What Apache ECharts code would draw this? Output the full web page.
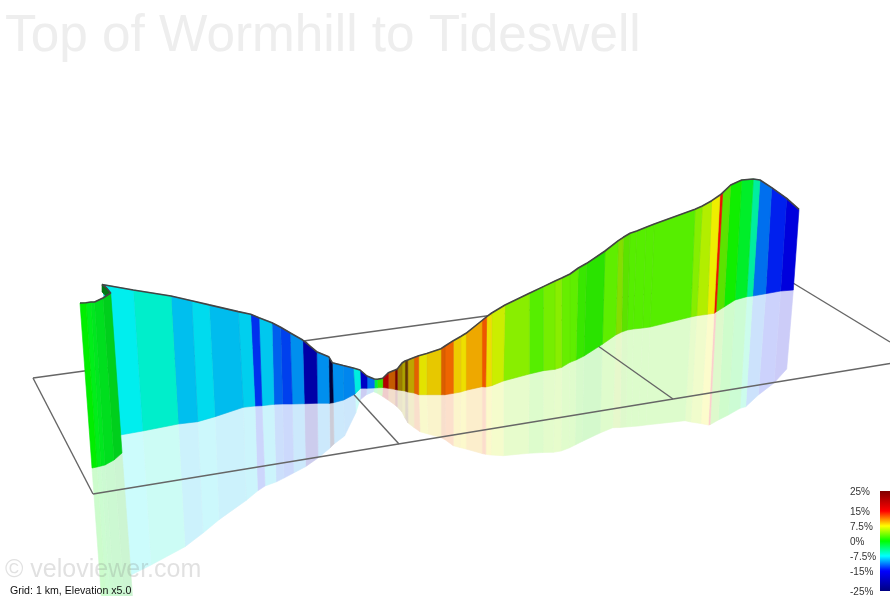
<!DOCTYPE html>
<html><head><meta charset="utf-8">
<style>html,body{margin:0;padding:0;background:#fff}#c{width:890px;height:596px}</style>
<script src="https://cdn.jsdelivr.net/npm/echarts@6/dist/echarts.min.js"></script>
</head><body><div id="c"></div>
<script>
// Projected road edge of the profile wall (top), the ground line (base) and the mirrored edge (mirror)
const topX = [80,86,91,94.5,103,110.7, 110.7,106.5,102, 102.5,133.3,171,191.7,209.3,238.3,250.7,259,272,280.7,290,302.7,316.7,328.7,332.3,343.3,353.3,360,367,374.3,377.3,382.7,388.3,395,397.3,402,405,407.7,414,418.7,426.7,441,445,453.3,460.7,466,482,486.7,491.7,505,529.3,543.3,555,561.7,570,578.3,586.7,605,618.3,623.3,630,636.7,646,654.3,695,702.3,711.7,720,722.7,730.7,741.7,753.3,760,771.7,786.7,799];
const topY = [303,302.7,302,302,298,293, 293,288,284.5, 284.5,290,296,300.8,304.9,311.6,314.3,317.7,322.7,327.3,332.7,340,351.7,356.7,362.7,365.5,368,370,376,379,379.3,378.3,372.7,370,369,363,361,360,357.5,355.8,353.5,348.7,346,340.7,336.5,333.3,320.5,316.7,313,305,293.3,286.6,281,278,274,268,263.3,251,240.7,237.3,233.3,231,227.3,224,209.3,206,200.7,195,192.7,185,180,179,180,187.7,198.3,209.3];
const baseX = [92,97,101,105,114,122, 107,104,102, 120,142.7,178.3,197.7,215,243.3,255,262,274,282.7,292.3,304.3,317.3,329.3,333.3,343.7,355,360.7,367,374.3,377.3,382.7,388.3,395,397.3,402,405,407.7,414,418.7,426.7,441,445,453.3,460.7,466,482,485.7,491.7,503.3,529.3,543.3,555,561.7,570,576,584,602.3,615.7,621.7,627.3,633.3,642.7,650,690.7,696.7,707.3,714,716,724,735,746.7,752.7,765.7,780.7,793.3];
const baseY = [468,467,466,465,460,453, 298,294,292, 435,431,424,421.7,416.7,407.3,406,405.7,404.3,404,404,403.7,403.3,403.3,402.7,400,394,388.3,388.3,388,387.8,387.5,388.3,389.3,390,390.5,391,392,393,394.7,394.7,394.7,394.7,393.3,392,390.3,386.7,387,385.7,381,374,370.7,369.3,367.3,362.3,360,356,344.3,335,332,330,329,328,327,317,315.7,314.3,313.3,312,307,300,296.7,296,293.7,291,290];
const mirrorX = [102.3,107,111,115,125,133.5, 107,104,102, 131,151,185,203,219,246,257.5,265,276,284,293.5,305.5,318,330,334,344.5,355.7,360,366,373.5,377,382,388,395,397.3,402,405,408,414,420,428,441,445.5,453.3,460,466,482,485.7,491,503.3,528.3,543,553.3,561,569,575,582,600,612.7,620,626,631.7,638.3,646,685,690.7,700.7,708.3,710,718.3,728.3,740,745.7,758.3,774,786.7];
const mirrorY = [610,610,610,610,610,610, 298,294,292, 575,565,546.7,533,519.7,500.5,491,486,482,478,473,466.7,458,448,444,436,413,400,395,391.7,393,396,400,405,407,412,418,423,427.5,431.7,434,437.5,440,445.7,447.5,449,453.5,454.3,455,455.7,453.3,452.5,452.3,451,448,445,441.5,433,427.7,427.5,427,426.5,426,425,420.7,422,423.5,425,424.7,420,415,408.3,406.7,395,383,369];

// Gradient (%) of the stretch that starts at each row; null marks a break in the strip
const grade = [0,-0.8,-1,-1,-1,null, -1,-1,null, -7.5,-6.4,-9,-8.1,-9.1,-8.5,-13.5,-8.7,-12,-13,-10.5,-21,-10.5,-32,-10.5,-10.8,-7,-18.5,-11.5,-2,2,20,11.5,25,9,8,11,8.5,11.8,7.5,8.5,11.8,11.8,8.6,8,9.7,12.3,8,6.4,4.3,2.7,3.7,4.3,3.2,3,1.8,1.4,3,4.5,3,2.7,2.7,2.7,2.7,4.2,5.6,7.5,14.5,3,0.5,-1.3,-5,-11.5,-14,-16.5,null];
// How much light each stretch's wall catches
const light = [1,1,0.97,0.93,0.87,1, 0.5,0.5,1, 1,1,1,1,1,1,1,1,1,1,1,1,1,1,1,1,1,1,1,1,0.95,1,0.82,1,0.65,0.72,0.42,0.8,0.95,0.95,0.97,0.92,1,1,1,1,1,1,1,1,1,1,1,1,1,0.97,0.95,1,0.93,0.95,1,1,1,1,1,1,1,1,0.95,1,1,1,1,1,1,1];

// Ground-plane grid segments
const gridFromX = [33,93,33,305,550,793];
const gridFromY = [378,494,378,341,312,283];
const gridToX   = [793,890,93,399,673,890];
const gridToY   = [274,363.5,494,444,399,342];

const scaleTicks = [25,15,7.5,0,-7.5,-15,-25];
const titleText = 'Top of Wormhill to Tideswell';
const markText = '© veloviewer.com';
const noteText = 'Grid: 1 km, Elevation x5.0';

const ramp = [[-35,[0,0,32]],[-25,[0,0,128]],[-15,[0,0,255]],[-7.5,[0,255,255]],[0,[0,255,0]],[7.5,[255,255,0]],[15,[255,0,0]],[25,[128,0,0]]];
function rampRGB(g){
  for(let i=1;i<ramp.length;i++){
    if(g<=ramp[i][0]){
      const a=ramp[i-1],b=ramp[i],t=(g-a[0])/(b[0]-a[0]);
      return a[1].map((v,k)=>v+(b[1][k]-v)*t);
    }
  }
  return ramp[ramp.length-1][1];
}
function colourOf(g,l,alpha){
  const c=rampRGB(g).map(v=>Math.round(255+(v*0.935*l-255)*alpha));
  return `rgb(${c[0]},${c[1]},${c[2]})`;
}

const bandIdx=[];
for(let i=grade.length-2;i>=0;i--){ if(grade[i]!==null) bandIdx.push(i); }

function bandSeries(kind,z){
  return {
    type:'custom', coordinateSystem:'cartesian2d', xAxisIndex:0, yAxisIndex:0, z, silent:true, clip:false,
    data:bandIdx.map(i=>[i]),
    renderItem:(p,api)=>{
      const i=api.value(0), j=i+1;
      const pts = kind==='wall'
        ? [[topX[i],topY[i]],[topX[j],topY[j]],[baseX[j],baseY[j]],[baseX[i],baseY[i]]]
        : [[baseX[i],baseY[i]],[baseX[j],baseY[j]],[mirrorX[j],mirrorY[j]],[mirrorX[i],mirrorY[i]]];
      const fill = colourOf(grade[i], light[i], kind==='wall'?1:0.2);
      return {type:'polygon',shape:{points:pts.map(q=>api.coord(q))},
        style: kind==='wall'
          ? {fill,stroke:colourOf(grade[i],light[i]*0.95,1),lineWidth:0.6}
          : {fill,stroke:colourOf(grade[i],light[i]*0.97,0.2),lineWidth:0.6}};
    }
  };
}

const gridSeries = gridFromX.map((x,i)=>({
  type:'line',xAxisIndex:0,yAxisIndex:0,z:4,silent:true,symbol:'none',
  data:[[x,gridFromY[i]],[gridToX[i],gridToY[i]]],
  lineStyle:{color:'#666',width:1.4}
}));

const chart=echarts.init(document.getElementById('c'),null,{renderer:'canvas'});
chart.setOption({
  animation:false,
  backgroundColor:'#fff',
  title:[
    {text:titleText,left:5,top:11,padding:0,textStyle:{fontFamily:'Liberation Sans',fontSize:51.3,fontWeight:'normal',color:'#eeeeee'}},
    {text:markText,left:5,top:558,padding:0,z:20,textStyle:{fontFamily:'Liberation Sans',fontSize:25,fontWeight:'normal',color:'rgba(120,120,120,0.22)'}},
    {text:noteText,left:10,top:586,padding:0,z:20,textStyle:{fontFamily:'Liberation Sans',fontSize:10.6,fontWeight:'normal',color:'#111'}}
  ],
  grid:[
    {left:0,top:0,width:890,height:596,show:false},
    {left:880,top:491,width:10,height:100,show:false},
    {left:880,top:492,width:10,height:100,show:false,outerBoundsMode:'none'}
  ],
  xAxis:[
    {type:'value',gridIndex:0,min:0,max:890,show:false},
    {type:'value',gridIndex:1,min:0,max:1,show:false},
    {type:'value',gridIndex:2,min:0,max:1,show:false}
  ],
  yAxis:[
    {type:'value',gridIndex:0,min:0,max:596,inverse:true,show:false},
    {type:'value',gridIndex:1,min:-25,max:25,show:false},
    {type:'value',gridIndex:2,min:-25,max:25,position:'left',
      axisLine:{show:false},axisTick:{show:false},splitLine:{show:false},
      axisLabel:{customValues:scaleTicks,formatter:v=>v+'%',align:'left',margin:30,
        fontFamily:'Liberation Sans',fontSize:10,color:'#333'}}
  ],
  series:[
    bandSeries('mirror',2),
    ...gridSeries,
    bandSeries('wall',6),
    {type:'line',xAxisIndex:0,yAxisIndex:0,z:8,silent:true,symbol:'none',clip:false,
      data:topX.map((x,i)=>[x,topY[i]]),
      lineStyle:{color:'#444',width:1.6}},
    {type:'custom',xAxisIndex:1,yAxisIndex:1,z:8,silent:true,data:[[0]],
      renderItem:(p,api)=>{
        const a=api.coord([0,25]),b=api.coord([1,-25]);
        const span=50;
        const stops=ramp.slice(1).map(s=>({offset:(25-s[0])/span,color:`rgb(${s[1].join(',')})`})).reverse();
        return {type:'rect',shape:{x:a[0],y:a[1],width:b[0]-a[0],height:b[1]-a[1]},
          style:{fill:new echarts.graphic.LinearGradient(0,0,0,1,stops)}};
      }}
  ]
});
</script></body></html>
